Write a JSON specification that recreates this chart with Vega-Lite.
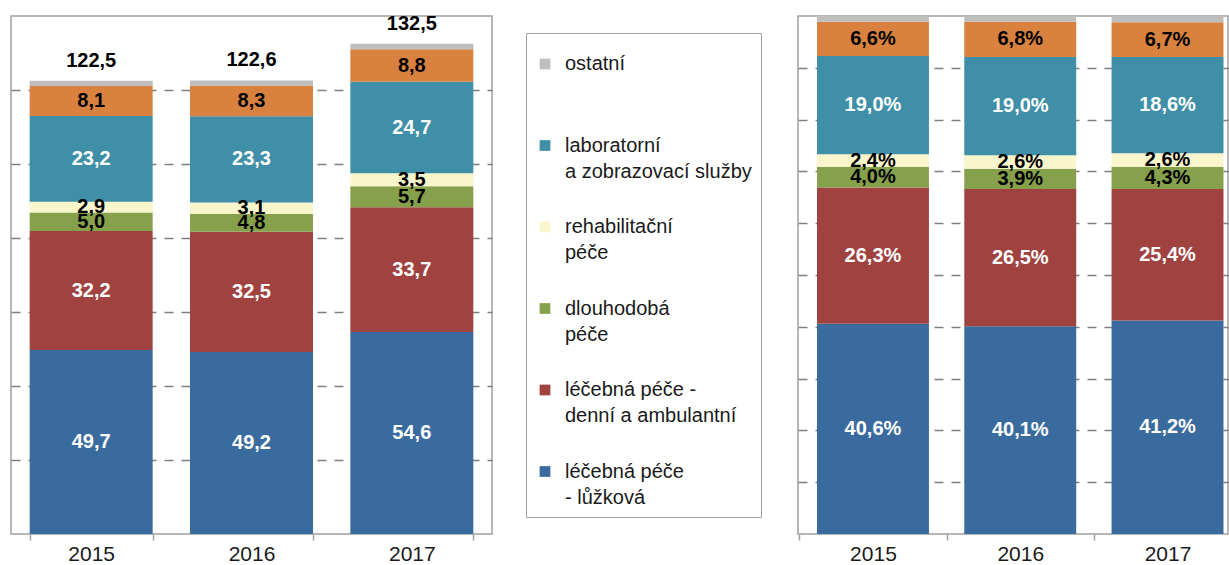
{
  "$schema": "https://vega.github.io/schema/vega-lite/v6.json",
  "background": "white",
  "padding": {"left": 10, "top": 12, "right": 0, "bottom": 0},
  "bounds": "flush",
  "spacing": 306,
  "config": {
    "font": "Liberation Sans",
    "locale": {"number": {"decimal": ",", "thousands": " ", "grouping": [3], "currency": ["", " Kč"]}},
    "view": {"stroke": "#a0a0a0", "strokeWidth": 1.5},
    "axis": {
      "labelFont": "Liberation Sans",
      "labelFontSize": 21,
      "labelColor": "#1a1a1a",
      "tickColor": "#a0a0a0",
      "tickWidth": 1.5,
      "tickSize": 6,
      "labelPadding": 3,
      "gridColor": "#7f7f7f",
      "gridWidth": 1.5,
      "gridDash": [9, 8],
      "labelAngle": 0,
      "title": null
    }
  },
  "datasets": {
    "vydaje": [
      {"rok": "2015", "kategorie": "léčebná péče - lůžková", "poradi": 1, "hodnota": 49.7, "podil": 0.406},
      {"rok": "2015", "kategorie": "léčebná péče - denní a ambulantní", "poradi": 2, "hodnota": 32.2, "podil": 0.263},
      {"rok": "2015", "kategorie": "dlouhodobá péče", "poradi": 3, "hodnota": 5.0, "podil": 0.040},
      {"rok": "2015", "kategorie": "rehabilitační péče", "poradi": 4, "hodnota": 2.9, "podil": 0.024},
      {"rok": "2015", "kategorie": "laboratorní a zobrazovací služby", "poradi": 5, "hodnota": 23.2, "podil": 0.190},
      {"rok": "2015", "kategorie": "zdravotnické prostředky", "poradi": 6, "hodnota": 8.1, "podil": 0.066},
      {"rok": "2015", "kategorie": "ostatní", "poradi": 7, "hodnota": 1.4, "podil": 0.011},
      {"rok": "2016", "kategorie": "léčebná péče - lůžková", "poradi": 1, "hodnota": 49.2, "podil": 0.401},
      {"rok": "2016", "kategorie": "léčebná péče - denní a ambulantní", "poradi": 2, "hodnota": 32.5, "podil": 0.265},
      {"rok": "2016", "kategorie": "dlouhodobá péče", "poradi": 3, "hodnota": 4.8, "podil": 0.039},
      {"rok": "2016", "kategorie": "rehabilitační péče", "poradi": 4, "hodnota": 3.1, "podil": 0.026},
      {"rok": "2016", "kategorie": "laboratorní a zobrazovací služby", "poradi": 5, "hodnota": 23.3, "podil": 0.190},
      {"rok": "2016", "kategorie": "zdravotnické prostředky", "poradi": 6, "hodnota": 8.3, "podil": 0.068},
      {"rok": "2016", "kategorie": "ostatní", "poradi": 7, "hodnota": 1.4, "podil": 0.011},
      {"rok": "2017", "kategorie": "léčebná péče - lůžková", "poradi": 1, "hodnota": 54.6, "podil": 0.412},
      {"rok": "2017", "kategorie": "léčebná péče - denní a ambulantní", "poradi": 2, "hodnota": 33.7, "podil": 0.254},
      {"rok": "2017", "kategorie": "dlouhodobá péče", "poradi": 3, "hodnota": 5.7, "podil": 0.043},
      {"rok": "2017", "kategorie": "rehabilitační péče", "poradi": 4, "hodnota": 3.5, "podil": 0.026},
      {"rok": "2017", "kategorie": "laboratorní a zobrazovací služby", "poradi": 5, "hodnota": 24.7, "podil": 0.186},
      {"rok": "2017", "kategorie": "zdravotnické prostředky", "poradi": 6, "hodnota": 8.8, "podil": 0.067},
      {"rok": "2017", "kategorie": "ostatní", "poradi": 7, "hodnota": 1.5, "podil": 0.012}
    ]
  },
  "resolve": {"legend": {"color": "independent"}},
  "hconcat": [
    {
      "width": 481,
      "height": 518,
      "data": {"name": "vydaje"},
      "layer": [
        {
          "mark": {"type": "bar"},
          "encoding": {
            "x": {
              "field": "rok", "type": "nominal",
              "scale": {"paddingInner": 0.233, "paddingOuter": 0.1165},
              "axis": {"tickBand": "extent", "domain": false, "title": null, "labelAngle": 0}
            },
            "y": {
              "field": "hodnota", "type": "quantitative", "stack": "zero",
              "scale": {"domain": [0, 140], "nice": false},
              "axis": {"values": [20, 40, 60, 80, 100, 120], "labels": false, "ticks": false, "domain": false, "grid": true, "title": null, "minExtent": 0, "maxExtent": 0}
            },
            "color": {
              "field": "kategorie", "type": "nominal",
              "scale": {
                "domain": ["ostatní", "laboratorní a zobrazovací služby", "rehabilitační péče", "dlouhodobá péče", "léčebná péče - denní a ambulantní", "léčebná péče - lůžková", "zdravotnické prostředky"],
                "range": ["#bebebe", "#3e8fa7", "#faf6cc", "#86a04b", "#a04240", "#3a6b9e", "#d9823f"]
              },
              "legend": {
                "values": ["ostatní", "laboratorní a zobrazovací služby", "rehabilitační péče", "dlouhodobá péče", "léčebná péče - denní a ambulantní", "léčebná péče - lůžková"],
                "orient": "none",
                "legendX": 515,
                "legendY": 17,
                "direction": "vertical",
                "title": " ",
                "titleFontSize": 8,
                "titlePadding": 4,
                "padding": 9,
                "strokeColor": "#a0a0a0",
                "fillColor": "white",
                "symbolType": "square",
                "symbolSize": 115,
                "symbolStrokeWidth": 0,
                "labelFont": "Liberation Sans",
                "labelFontSize": 20,
                "labelColor": "#1a1a1a",
                "labelOffset": 10,
                "labelLimit": 400,
                "labelBaseline": "top",
                "rowPadding": 35.5,
                "gridAlign": "all",
                "labelExpr": "datum.label == 'laboratorní a zobrazovací služby' ? ['laboratorní', 'a zobrazovací služby'] : datum.label == 'rehabilitační péče' ? ['rehabilitační', 'péče'] : datum.label == 'dlouhodobá péče' ? ['dlouhodobá', 'péče'] : datum.label == 'léčebná péče - denní a ambulantní' ? ['léčebná péče  -', 'denní a ambulantní'] : datum.label == 'léčebná péče - lůžková' ? ['léčebná péče', '- lůžková'] : datum.label",
                "encode": {"labels": {"update": {"dy": {"value": -10}, "lineHeight": {"value": 26}}}}
              }
            },
            "order": {"field": "poradi", "type": "quantitative"}
          }
        },
        {
          "transform": [{"filter": "datum.kategorie != 'ostatní'"}],
          "mark": {"type": "text", "fontSize": 20, "fontWeight": "bold", "font": "Liberation Sans"},
          "encoding": {
            "x": {"field": "rok", "type": "nominal"},
            "y": {"field": "hodnota", "type": "quantitative", "stack": "zero", "bandPosition": 0.5},
            "detail": {"field": "kategorie"},
            "order": {"field": "poradi", "type": "quantitative"},
            "text": {"field": "hodnota", "type": "quantitative", "format": ".1f"},
            "color": {
              "condition": {"test": "datum.kategorie == 'léčebná péče - lůžková' || datum.kategorie == 'léčebná péče - denní a ambulantní' || datum.kategorie == 'laboratorní a zobrazovací služby'", "value": "#ffffff"},
              "value": "#000000"
            }
          }
        },
        {
          "mark": {"type": "text", "fontSize": 20, "fontWeight": "bold", "font": "Liberation Sans", "baseline": "alphabetic", "dy": -14, "color": "#000000"},
          "encoding": {
            "x": {"field": "rok", "type": "nominal"},
            "y": {"aggregate": "sum", "field": "hodnota", "type": "quantitative"},
            "text": {"aggregate": "sum", "field": "hodnota", "type": "quantitative", "format": ".1f"}
          }
        }
      ]
    },
    {
      "width": 430,
      "height": 518,
      "data": {"name": "vydaje"},
      "layer": [
        {
          "mark": {"type": "bar"},
          "encoding": {
            "x": {
              "field": "rok", "type": "nominal",
              "scale": {"paddingInner": 0.24, "paddingOuter": 0.0798, "align": 0.8085},
              "axis": {"bandPosition": 0, "tickOffset": -17.67, "labelOffset": 17.67, "domain": false, "title": null, "labelAngle": 0}
            },
            "y": {
              "field": "podil", "type": "quantitative", "stack": "zero",
              "scale": {"domain": [0, 1], "nice": false},
              "axis": {"values": [0.1, 0.2, 0.3, 0.4, 0.5, 0.6, 0.7, 0.8, 0.9], "labels": false, "ticks": false, "domain": false, "grid": true, "title": null, "minExtent": 0, "maxExtent": 0}
            },
            "color": {
              "field": "kategorie", "type": "nominal",
              "scale": {
                "domain": ["ostatní", "laboratorní a zobrazovací služby", "rehabilitační péče", "dlouhodobá péče", "léčebná péče - denní a ambulantní", "léčebná péče - lůžková", "zdravotnické prostředky"],
                "range": ["#bebebe", "#3e8fa7", "#faf6cc", "#86a04b", "#a04240", "#3a6b9e", "#d9823f"]
              },
              "legend": null
            },
            "order": {"field": "poradi", "type": "quantitative"}
          }
        },
        {
          "transform": [{"filter": "datum.kategorie != 'ostatní'"}],
          "mark": {"type": "text", "fontSize": 20, "fontWeight": "bold", "font": "Liberation Sans"},
          "encoding": {
            "x": {"field": "rok", "type": "nominal"},
            "y": {"field": "podil", "type": "quantitative", "stack": "zero", "bandPosition": 0.5},
            "detail": {"field": "kategorie"},
            "order": {"field": "poradi", "type": "quantitative"},
            "text": {"field": "podil", "type": "quantitative", "format": ".1%"},
            "color": {
              "condition": {"test": "datum.kategorie == 'léčebná péče - lůžková' || datum.kategorie == 'léčebná péče - denní a ambulantní' || datum.kategorie == 'laboratorní a zobrazovací služby'", "value": "#ffffff"},
              "value": "#000000"
            }
          }
        }
      ]
    }
  ]
}
